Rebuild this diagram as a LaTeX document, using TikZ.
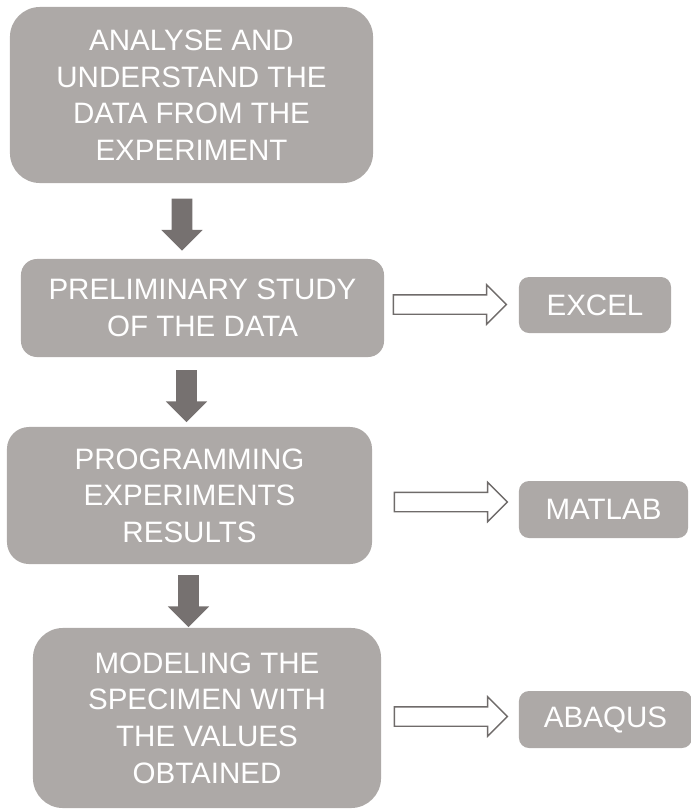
\documentclass[tikz,border=0pt]{standalone}
\usepackage{fontspec}
\setmainfont{Liberation Sans}
\usetikzlibrary{shapes,arrows,positioning}
\definecolor{boxgrey}{RGB}{173,169,167}
\definecolor{arrowgrey}{RGB}{118,113,112}
\definecolor{linegrey}{RGB}{111,107,106}

\begin{document}
\begin{tikzpicture}[x=0.025cm,y=-0.025cm,
  stage/.style={rectangle,fill=boxgrey,text=white,align=center,inner sep=0,font=\fontsize{21}{26}\selectfont},
  flow/.style={single arrow,fill=arrowgrey,draw=none,inner xsep=0.25cm,inner ysep=0,minimum height=1.3cm,single arrow head extend=0.26cm,shape border rotate=270},
  tool/.style={single arrow,draw=linegrey,fill=white,line width=1pt,inner xsep=0,inner ysep=0.225cm,minimum height=2.82cm,single arrow head extend=0.25cm}]
\useasboundingbox (0,0) rectangle (691,812);

\node[stage,rounded corners=0.75cm,minimum width=9.075cm,minimum height=4.4cm] (analyse) at (191.5,95) {ANALYSE AND\\UNDERSTAND THE\\DATA FROM THE\\EXPERIMENT};
\node[stage,rounded corners=0.4cm,minimum width=9.075cm,minimum height=2.45cm] (study) at (202.5,308) {PRELIMINARY STUDY\\OF THE DATA};
\node[stage,rounded corners=0.55cm,minimum width=9.125cm,minimum height=3.425cm] (program) at (189.5,495.5) {PROGRAMMING\\EXPERIMENTS\\RESULTS};
\node[stage,rounded corners=0.75cm,minimum width=8.7cm,minimum height=4.5cm] (model) at (207,718) {MODELING THE\\SPECIMEN WITH\\THE VALUES\\OBTAINED};

\node[stage,rounded corners=0.25cm,minimum width=3.8cm,minimum height=1.4cm] (excel) at (595,305) {EXCEL};
\node[stage,rounded corners=0.25cm,minimum width=4.225cm,minimum height=1.425cm] (matlab) at (603.5,509.5) {MATLAB};
\node[stage,rounded corners=0.25cm,minimum width=4.325cm,minimum height=1.425cm] (abaqus) at (605.5,719.5) {ABAQUS};

\node[flow] (a1) at (182,219.5) {};
\node[flow] (a2) at (186.5,391) {};
\node[flow] (a3) at (188.5,596) {};

\node[tool] (t1) at (445,304.5) {};
\node[tool] (t2) at (446,502) {};
\node[tool] (t3) at (446,716.5) {};
\end{tikzpicture}
\end{document}
